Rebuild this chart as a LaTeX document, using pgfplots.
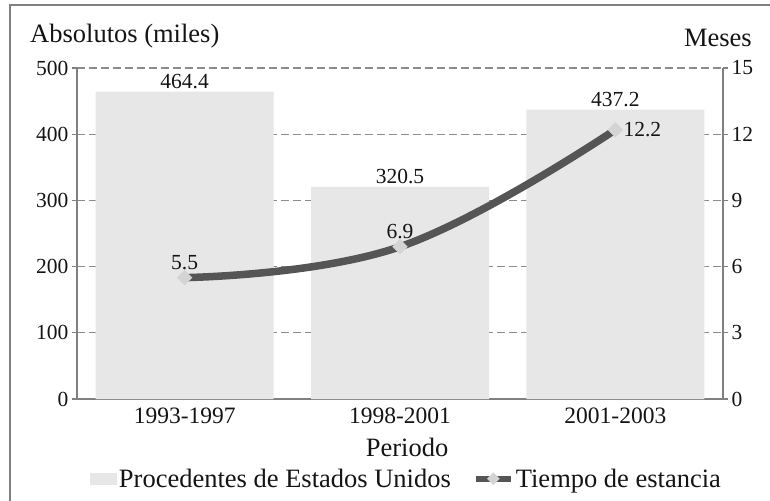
\documentclass[border=0pt]{standalone}
\usepackage{fontspec}
\setmainfont{Liberation Serif}
\usepackage{pgfplots}
\pgfplotsset{compat=1.18}
\definecolor{barc}{HTML}{E7E7E7}
\definecolor{linec}{HTML}{555555}
\definecolor{markc}{HTML}{D4D4D4}
\definecolor{axc}{HTML}{808080}
\definecolor{gridc}{HTML}{8C8C8C}
\definecolor{txt}{HTML}{141414}
\pgfplotsset{
  /pgf/number format/assume math mode=true,
  every axis/.append style={
    scale only axis, width=646bp, height=331bp,
    at={(0bp,0bp)}, anchor=south west,
    xmin=-0.5, xmax=2.5, clip=false,
    axis line style={axc, line width=1.3bp},
    tick style={axc, line width=1.2bp},
    tick align=outside, major tick length=5bp,
    yticklabel style={font=\fontsize{21.5bp}{25bp}\selectfont, text=txt},
  },
  lbl/.style={nodes near coords,
    every node near coord/.append style={font=\fontsize{21.5bp}{25bp}\selectfont, text=txt, inner sep=8bp, anchor=#1},
    /pgf/number format/fixed, /pgf/number format/precision=1},
  mk/.style={only marks, mark=square*, mark size=5.2bp,
    mark options={rotate=45, fill=markc, draw=markc}},
}
\pgfplotstableread{
x y
0 464.4
1 320.5
2 437.2
}\bars
\pgfplotstableread{
x y
0 5.5
1 6.9
2 12.2
}\tiempo
\begin{document}
\begin{tikzpicture}
\useasboundingbox (-77bp,-102bp) rectangle (693bp,399bp);
\draw[axc, line width=2bp] (-67bp,-130bp) -- (-67bp,394bp) -- (720bp,394bp);
\begin{axis}[
  ymin=0, ymax=500,
  axis x line*=bottom, axis y line*=left,
  xtick={0,1,2}, xticklabels={1993-1997,1998-2001,2001-2003},
  xtick style={draw=none},
  xticklabel style={font=\fontsize{23.5bp}{28bp}\selectfont, text=txt},
  ytick={0,100,...,500},
  ymajorgrids,
  grid style={gridc, line width=1.1bp, dash pattern=on 8bp off 4bp},
  xlabel={Periodo},
  xlabel style={at={(axis description cs:0.511,-0.147)}, anchor=center,
    font=\fontsize{26.5bp}{30bp}\selectfont, text=txt},
  legend style={at={(0.51,-0.241)}, anchor=center, draw=none, fill=none,
    legend columns=2, font=\fontsize{26.5bp}{30bp}\selectfont, text=txt,
    /tikz/every even column/.append style={column sep=20bp},
    legend cell align=left},
]
\addplot[ybar, bar width=178bp, fill=barc, draw=none,
  nodes near coords,
  every node near coord/.append style={font=\fontsize{21.5bp}{25bp}\selectfont, text=txt, inner sep=3bp},
  /pgf/number format/fixed, /pgf/number format/precision=1,
  legend image code/.code={\fill[barc] (-3bp,-6bp) rectangle (24bp,6bp);}
] table[x=x, y=y] {\bars};
\addlegendentry{Procedentes de Estados Unidos}
\addlegendimage{legend image code/.code={
  \draw[linec, line width=6bp] (0bp,0bp) -- (35bp,0bp);
  \fill[markc] (17.5bp,6bp) -- (23.5bp,0bp) -- (17.5bp,-6bp) -- (11.5bp,0bp) -- cycle;}}
\addlegendentry{Tiempo de estancia}
\end{axis}
\begin{axis}[
  ymin=0, ymax=15,
  axis x line=none, axis y line*=right,
  ytick={0,3,...,15},
]
\addplot[mk, lbl=south] coordinates {(0,5.5) (1,6.9)};
\addplot[mk, lbl=west] coordinates {(2,12.2)};
\addplot[linec, line width=7.5bp, smooth, tension=0.7, no markers] table[x=x, y=y] {\tiempo};
\end{axis}
\node[anchor=base west, font=\fontsize{26.5bp}{30bp}\selectfont, text=txt, inner sep=0pt] at (-47bp,356bp) {Absolutos (miles)};
\node[anchor=base east, font=\fontsize{26.5bp}{30bp}\selectfont, text=txt, inner sep=0pt] at (675bp,352bp) {Meses};
\end{tikzpicture}
\end{document}
